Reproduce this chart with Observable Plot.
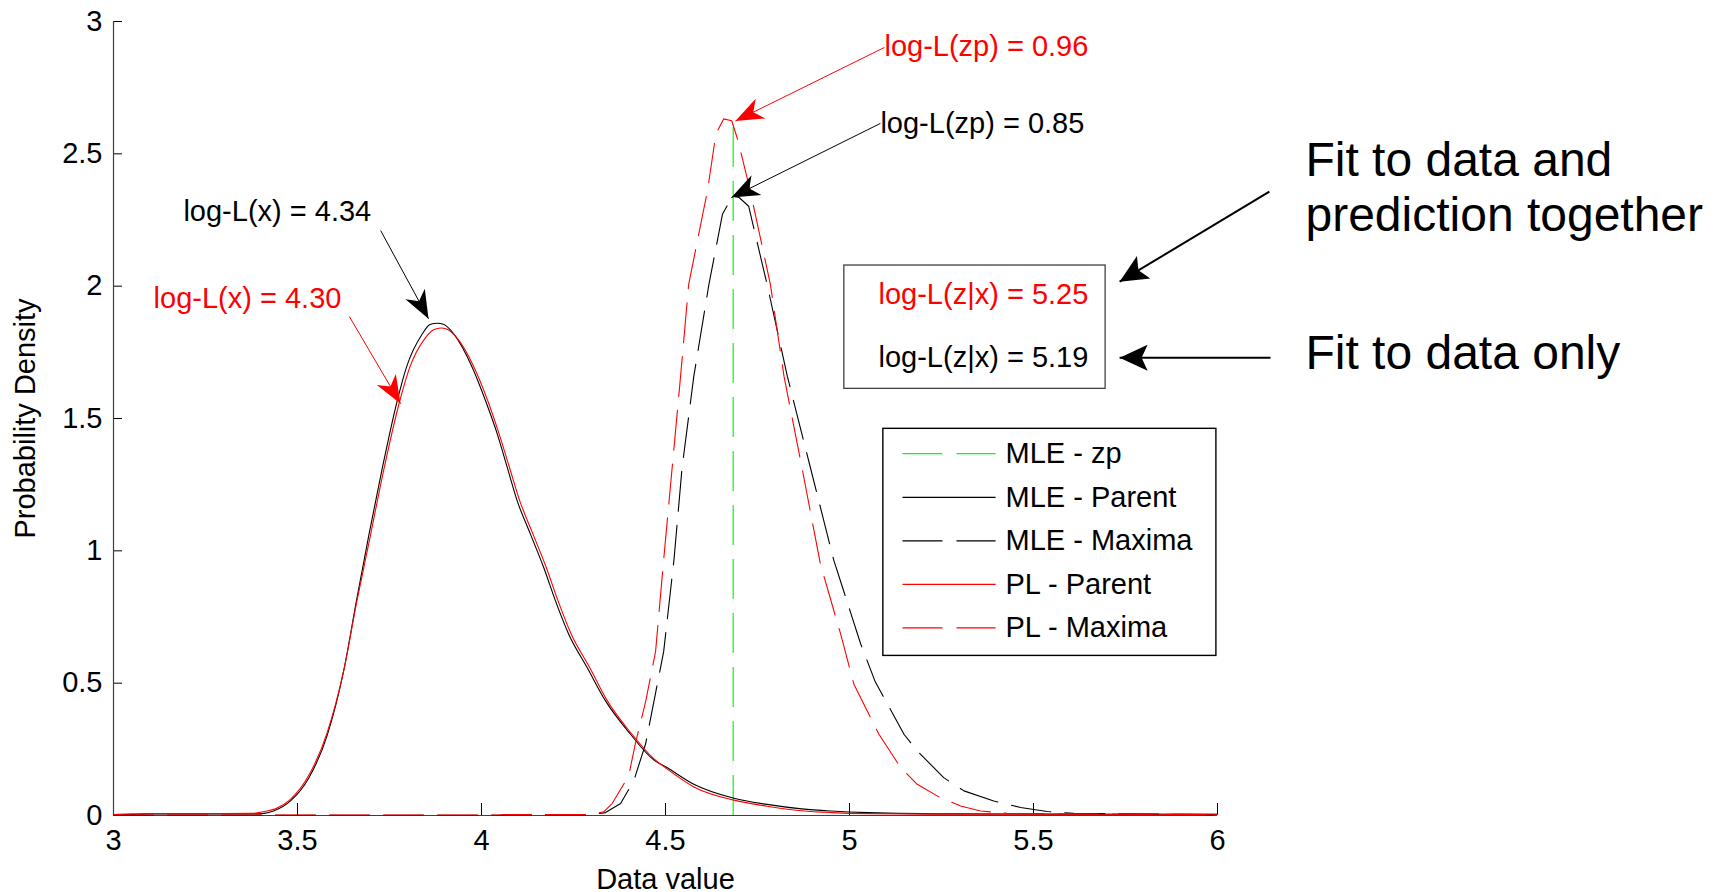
<!DOCTYPE html>
<html>
<head>
<meta charset="utf-8">
<script src="https://cdn.jsdelivr.net/npm/d3@7"></script>
<script src="https://cdn.jsdelivr.net/npm/@observablehq/plot@0.6"></script>
<style>
  html, body { margin: 0; padding: 0; background: #fff; }
  #chart svg { display: block; }
</style>
</head>
<body>
<div id="chart"></div>
<script>
// ---------------- DATA ----------------
const xTicks = [3, 3.5, 4, 4.5, 5, 5.5, 6];
const xTickLabels = ["3", "3.5", "4", "4.5", "5", "5.5", "6"];
const yTicks = [0, 0.5, 1, 1.5, 2, 2.5, 3];
const yTickLabels = ["0", "0.5", "1", "1.5", "2", "2.5", "3"];

const seriesNames = ["MLE - zp", "MLE - Parent", "MLE - Maxima", "PL - Parent", "PL - Maxima"];

// MLE - zp (vertical line)
const mleZpX = 4.684;
const mleZpTop = 2.62;

// MLE - Parent (black solid)
const mleParentX = [3.00, 3.05, 3.10, 3.20, 3.30, 3.38, 3.41, 3.435, 3.481, 3.53, 3.58, 3.626, 3.66, 3.694, 3.73, 3.771, 3.796, 3.839, 3.86, 3.88, 3.898, 3.925, 3.975, 4.011, 4.043, 4.07, 4.097, 4.133, 4.169, 4.201, 4.237, 4.287, 4.337, 4.405, 4.468, 4.504, 4.577, 4.686, 4.776, 4.87, 4.95, 5.05, 5.3, 5.6, 6.0];
const mleParentY = [0.002, 0.004, 0.006, 0.006, 0.006, 0.006, 0.008, 0.017, 0.055, 0.14, 0.30, 0.55, 0.81, 1.06, 1.31, 1.567, 1.693, 1.819, 1.855, 1.86, 1.855, 1.819, 1.693, 1.567, 1.441, 1.315, 1.189, 1.063, 0.937, 0.811, 0.685, 0.559, 0.433, 0.307, 0.21, 0.181, 0.118, 0.065, 0.042, 0.025, 0.017, 0.011, 0.006, 0.005, 0.005];

// PL - Parent (red solid)
const plParentX = [3.00, 3.05, 3.10, 3.20, 3.30, 3.38, 3.41, 3.44, 3.48, 3.53, 3.58, 3.626, 3.66, 3.697, 3.735, 3.778, 3.805, 3.845, 3.87, 3.89, 3.905, 3.93, 3.98, 4.017, 4.048, 4.076, 4.104, 4.14, 4.176, 4.208, 4.244, 4.294, 4.342, 4.409, 4.468, 4.504, 4.577, 4.686, 4.776, 4.87, 4.95, 5.05, 5.3, 6.0];
const plParentY = [0.004, 0.006, 0.007, 0.007, 0.007, 0.008, 0.015, 0.025, 0.06, 0.15, 0.31, 0.55, 0.80, 1.05, 1.31, 1.567, 1.693, 1.80, 1.835, 1.842, 1.838, 1.81, 1.693, 1.567, 1.441, 1.315, 1.189, 1.063, 0.937, 0.811, 0.685, 0.559, 0.433, 0.307, 0.215, 0.176, 0.108, 0.058, 0.035, 0.018, 0.011, 0.007, 0.005, 0.005];

// MLE - Maxima (black dashed)
const mleMaxX = [3.00, 4.05, 4.06, 4.30, 4.337, 4.378, 4.414, 4.446, 4.495, 4.523, 4.545, 4.577, 4.618, 4.655, 4.682, 4.70, 4.726, 4.776, 4.831, 4.894, 4.957, 5.03, 5.07, 5.148, 5.184, 5.256, 5.311, 5.392, 5.465, 5.537, 5.609, 6.0];
const mleMaxY = [0.001, 0.001, 0.003, 0.003, 0.011, 0.045, 0.132, 0.271, 0.619, 0.966, 1.313, 1.66, 2.007, 2.273, 2.34, 2.335, 2.302, 2.007, 1.66, 1.313, 0.966, 0.65, 0.505, 0.307, 0.244, 0.143, 0.093, 0.055, 0.030, 0.015, 0.008, 0.003];

// PL - Maxima (red dashed)
const plMaxX = [3.00, 4.05, 4.06, 4.30, 4.332, 4.355, 4.400, 4.418, 4.446, 4.473, 4.495, 4.518, 4.541, 4.563, 4.598, 4.614, 4.637, 4.658, 4.68, 4.697, 4.728, 4.785, 4.822, 4.871, 4.921, 4.976, 5.012, 5.08, 5.139, 5.184, 5.247, 5.302, 5.356, 5.428, 6.0];
const plMaxY = [0.002, 0.002, 0.004, 0.004, 0.014, 0.045, 0.150, 0.271, 0.43, 0.619, 0.966, 1.313, 1.66, 2.007, 2.25, 2.36, 2.575, 2.632, 2.625, 2.55, 2.374, 2.007, 1.66, 1.313, 0.95, 0.685, 0.496, 0.307, 0.181, 0.118, 0.067, 0.036, 0.017, 0.008, 0.003];

// Annotation texts
const annotationTexts = ["log-L(zp) = 0.96", "log-L(zp) = 0.85", "log-L(x) = 4.34", "log-L(x) = 4.30"];
const boxTexts = ["log-L(z|x) = 5.25", "log-L(z|x) = 5.19"];
const sideTexts = ["Fit to data and", "prediction together", "Fit to data only"];

// ---------------- LAYOUT (data coordinates) ----------------
const RED = "#ff0000", BLACK = "#000000", GREEN = "#00ff00";
const DASH = "40,14";

const rows = (xs, ys) => xs.map((x, i) => ({x, y: ys[i]}));

const annPos = [
  {x: 5.095, y: 2.871, color: RED},
  {x: 5.084, y: 2.580, color: BLACK},
  {x: 3.190, y: 2.248, color: BLACK},
  {x: 3.109, y: 1.919, color: RED}
];
const annRows = annotationTexts.map((t, i) => ({text: t, ...annPos[i]}));

const arrowRows = [
  {x1: 5.095, y1: 2.902, x2: 4.690, y2: 2.624, color: RED},
  {x1: 5.084, y1: 2.615, x2: 4.679, y2: 2.335, color: BLACK},
  {x1: 3.726, y1: 2.210, x2: 3.856, y2: 1.877, color: BLACK},
  {x1: 3.641, y1: 1.885, x2: 3.780, y2: 1.556, color: RED}
];
const bigArrowRows = [
  {x1: 6.141, y1: 2.357, x2: 5.734, y2: 2.017},
  {x1: 6.144, y1: 1.730, x2: 5.734, y2: 1.730}
];

const boxRows = [
  {text: boxTexts[0], x: 5.649, y: 1.934, color: RED},
  {text: boxTexts[1], x: 5.649, y: 1.693, color: BLACK}
];
const sideRows = [
  {text: sideTexts[0], x: 6.239, y: 2.418},
  {text: sideTexts[1], x: 6.239, y: 2.210},
  {text: sideTexts[2], x: 6.239, y: 1.688}
];

const legendColors = [GREEN, BLACK, BLACK, RED, RED];
const legendDash = [DASH, null, DASH, null, DASH];
const legendRowY = [1.367, 1.202, 1.038, 0.873, 0.709];
const legendRows = seriesNames.map((n, i) => ({name: n, y: legendRowY[i], color: legendColors[i], dash: legendDash[i]}));

function headMarker(size) {
  const [len, half, notch] = size;
  return function (color) {
    const ns = "http://www.w3.org/2000/svg";
    const m = document.createElementNS(ns, "marker");
    m.setAttribute("viewBox", `${-len - 1} ${-half - 1} ${len + 2} ${2 * half + 2}`);
    m.setAttribute("markerWidth", len + 2);
    m.setAttribute("markerHeight", 2 * half + 2);
    m.setAttribute("markerUnits", "userSpaceOnUse");
    m.setAttribute("orient", "auto");
    m.setAttribute("refX", 0);
    m.setAttribute("refY", 0);
    m.setAttribute("overflow", "visible");
    const p = document.createElementNS(ns, "path");
    p.setAttribute("d", `M0,0L${-len},${-half}L${-len + notch},0L${-len},${half}Z`);
    p.setAttribute("fill", color);
    p.setAttribute("stroke", "none");
    m.appendChild(p);
    return m;
  };
}

const smallHead = headMarker([28, 11, 8]);
const bigHead = headMarker([28, 13, 6]);

const marks = [
  // axes lines
  Plot.ruleX([3], {stroke: "#404040", strokeWidth: 1.2}),
  Plot.ruleY([0], {stroke: "#404040", strokeWidth: 1.2}),
  // series
  Plot.ruleX([mleZpX], {y1: 0, y2: mleZpTop, stroke: GREEN, strokeWidth: 1.2, strokeDasharray: DASH}),
  Plot.line(rows(mleParentX, mleParentY), {x: "x", y: "y", stroke: BLACK, strokeWidth: 1.1, curve: "monotone-x"}),
  Plot.line(rows(mleMaxX, mleMaxY), {x: "x", y: "y", stroke: BLACK, strokeWidth: 1.1, strokeDasharray: DASH}),
  Plot.line(rows(plParentX, plParentY), {x: "x", y: "y", stroke: RED, strokeWidth: 1.1, curve: "monotone-x"}),
  Plot.line(rows(plMaxX, plMaxY), {x: "x", y: "y", stroke: RED, strokeWidth: 1.1, strokeDasharray: DASH}),
  // annotations
  Plot.link(arrowRows.filter(d => d.color === RED), {x1: "x1", y1: "y1", x2: "x2", y2: "y2", stroke: RED, strokeWidth: 1, markerEnd: smallHead}),
  Plot.link(arrowRows.filter(d => d.color === BLACK), {x1: "x1", y1: "y1", x2: "x2", y2: "y2", stroke: BLACK, strokeWidth: 1, markerEnd: smallHead}),
  Plot.text(annRows.filter(d => d.color === RED), {x: "x", y: "y", text: "text", fill: RED, textAnchor: "start", lineAnchor: "bottom", fontSize: 29}),
  Plot.text(annRows.filter(d => d.color === BLACK), {x: "x", y: "y", text: "text", fill: BLACK, textAnchor: "start", lineAnchor: "bottom", fontSize: 29}),
  // z|x box
  Plot.rect([0], {x1: 4.986, x2: 5.696, y1: 1.612, y2: 2.078, fill: "white", stroke: "#404040", strokeWidth: 1.3}),
  Plot.text(boxRows.filter(d => d.color === RED), {x: "x", y: "y", text: "text", fill: RED, textAnchor: "end", lineAnchor: "bottom", fontSize: 29}),
  Plot.text(boxRows.filter(d => d.color === BLACK), {x: "x", y: "y", text: "text", fill: BLACK, textAnchor: "end", lineAnchor: "bottom", fontSize: 29}),
  // side arrows and texts
  Plot.link(bigArrowRows, {x1: "x1", y1: "y1", x2: "x2", y2: "y2", stroke: BLACK, strokeWidth: 2, markerEnd: bigHead}),
  Plot.text(sideRows, {x: "x", y: "y", text: "text", fill: BLACK, textAnchor: "start", lineAnchor: "bottom", fontSize: 48}),
  // legend
  Plot.rect([0], {x1: 5.092, x2: 5.997, y1: 0.603, y2: 1.461, fill: "white", stroke: BLACK, strokeWidth: 1.4}),
  ...legendRows.map(r => Plot.link([r], {x1: 5.144, x2: 5.397, y1: "y", y2: "y", stroke: r.color, strokeWidth: 1.2, strokeDasharray: r.dash || "none"})),
  Plot.text(legendRows, {x: 5.424, y: "y", text: "name", fill: BLACK, textAnchor: "start", lineAnchor: "middle", fontSize: 29}),
  // axis titles
  Plot.text(["Data value"], {x: 4.5, y: -0.278, text: d => d, textAnchor: "middle", lineAnchor: "bottom", fontSize: 29}),
  Plot.text(["Probability Density"], {x: 2.788, y: 1.5, text: d => d, rotate: -90, textAnchor: "middle", lineAnchor: "bottom", fontSize: 29})
];

const chart = Plot.plot({
  width: 1718,
  height: 892,
  marginLeft: 113,
  marginRight: 501,
  marginTop: 21,
  marginBottom: 77,
  style: {fontFamily: "'Liberation Sans', Arial, Helvetica, sans-serif", fontSize: "29px", background: "white", color: "black", overflow: "visible"},
  x: {domain: [3, 6], ticks: xTicks, tickFormat: d => xTickLabels[xTicks.indexOf(d)], tickSize: -12, tickPadding: 26, label: null},
  y: {domain: [0, 3], ticks: yTicks, tickFormat: d => yTickLabels[yTicks.indexOf(d)], tickSize: -9, tickPadding: 20, label: null},
  marks
});
document.getElementById("chart").appendChild(chart);
</script>
</body>
</html>
